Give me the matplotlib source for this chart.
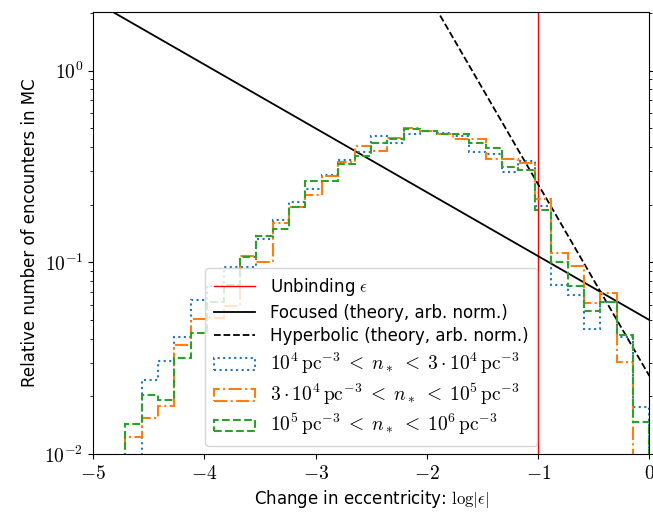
import numpy as np
import matplotlib
matplotlib.use("Agg")
import matplotlib.pyplot as plt
from matplotlib.ticker import FuncFormatter, NullFormatter

plt.rcParams['font.family'] = ['DejaVu Sans']
plt.rcParams['mathtext.fontset'] = 'cm'

# bin edges in log|eps|, 32 bins up to 0
edges = np.linspace(-4.71, 0.0, 33)

# fraction of encounters per bin for each density range
low_density = [0.0, 0.0243, 0.0305, 0.0408, 0.0638, 0.075, 0.095, 0.095,
               0.133, 0.167, 0.207, 0.241, 0.285, 0.340, 0.378, 0.458,
               0.421, 0.469, 0.484, 0.471, 0.456, 0.378, 0.366, 0.295,
               0.339, 0.197, 0.0759, 0.0673, 0.0449, 0.062, 0.0406, 0.0176]
mid_density = [0.0122, 0.0155, 0.0178, 0.0370, 0.0504, 0.051, 0.059, 0.108,
               0.101, 0.161, 0.194, 0.224, 0.282, 0.335, 0.405, 0.382,
               0.445, 0.504, 0.484, 0.467, 0.440, 0.439, 0.344, 0.345,
               0.329, 0.213, 0.112, 0.0957, 0.0613, 0.0691, 0.0303, 0.0]
high_density = [0.0144, 0.0202, 0.0191, 0.0318, 0.0429, 0.062, 0.076, 0.106,
                0.137, 0.149, 0.194, 0.266, 0.266, 0.326, 0.359, 0.418,
                0.440, 0.494, 0.486, 0.467, 0.467, 0.418, 0.397, 0.315,
                0.303, 0.187, 0.101, 0.0750, 0.0555, 0.0620, 0.0417, 0.0147]

labels = [r"$10^4\,\mathrm{pc}^{-3} \;<\; n_* \;<\; 3\cdot10^4\,\mathrm{pc}^{-3}$",
          r"$3\cdot10^4\,\mathrm{pc}^{-3} \;<\; n_* \;<\; 10^5\,\mathrm{pc}^{-3}$",
          r"$10^5\,\mathrm{pc}^{-3} \;<\; n_* \;<\; 10^6\,\mathrm{pc}^{-3}$"]

# theory curves, arbitrary normalisation (value at log|eps| = 0)
focused_norm = 0.05
focused_slope = -1.0 / 3.0
hyperbolic_norm = 0.0255
hyperbolic_slope = -1.0

unbinding = -1.0

fig = plt.figure(figsize=(6.53, 5.15), dpi=100)
ax = fig.add_axes([0.1424, 0.1184, 0.8522, 0.8589])
ax.set_yscale('log')

x = np.linspace(-5, 0, 200)
ax.axvline(unbinding, color='red', lw=1, label=r"Unbinding $\epsilon$")
ax.plot(x, focused_norm * 10 ** (focused_slope * x), color='black', lw=1.3,
        label="Focused (theory, arb. norm.)")
ax.plot(x, hyperbolic_norm * 10 ** (hyperbolic_slope * x), color='black',
        lw=1.3, ls='--', label="Hyperbolic (theory, arb. norm.)")

series = [low_density, mid_density, high_density]
styles = [':', '-.', '--']
colors = ['tab:blue', 'tab:orange', 'tab:green']
for vals, ls, c, lab in zip(series, styles, colors, labels):
    ax.hist(edges[:-1], bins=edges, weights=vals, histtype='step',
            ls=ls, color=c, lw=1.5, label=lab)

ax.set_xlim(-5, 0)
ax.set_ylim(1e-2, 2.03)
xt = [-5, -4, -3, -2, -1, 0]
ax.set_xticks(xt)
ax.set_xticklabels([r"$%d$" % v if v == 0 else r"$-%d$" % -v for v in xt])
ax.yaxis.set_major_formatter(
    FuncFormatter(lambda v, p: r"$10^{%d}$" % round(np.log10(v))))
ax.yaxis.set_minor_formatter(NullFormatter())
ax.tick_params(which='both', right=True, labelsize=14)

ax.set_xlabel(r"Change in eccentricity: $\log|\epsilon|$", fontsize=12)
ax.set_ylabel("Relative number of encounters in MC", fontsize=12)
leg = ax.legend(loc='lower center', fontsize=12, handlelength=2.5,
                handletextpad=0.9, borderpad=0.5, labelspacing=0.33)
# the density labels are pure math, set a touch larger
for t in leg.get_texts()[3:]:
    t.set_fontsize(14)

fig.savefig("out.png", dpi=100)
